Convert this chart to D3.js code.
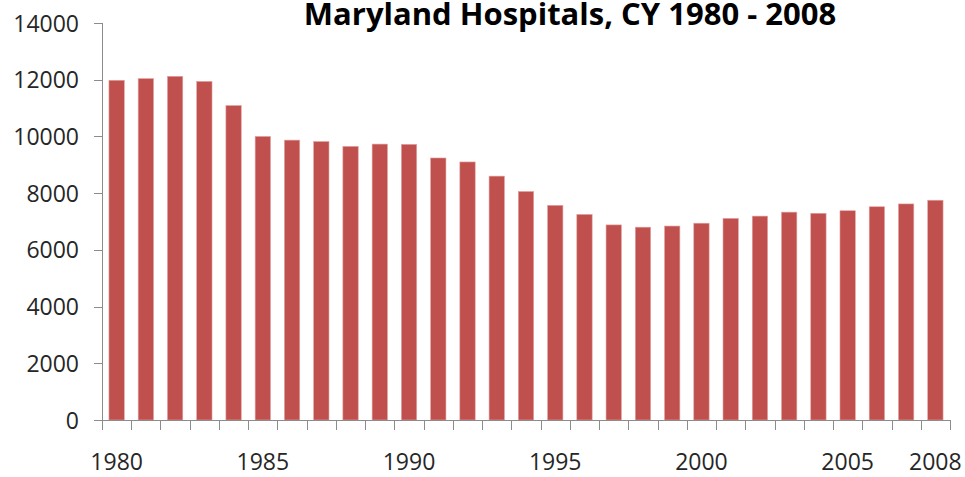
<!DOCTYPE html>
<meta charset="utf-8">
<style>
    body { margin: 0; background: #fff; }
    text { font-family: "Open Sans", sans-serif; fill: #262626; }
    .title { font-weight: bold; fill: #000; }
    .axis path, .axis line { stroke: #8c8c8c; shape-rendering: crispEdges; }
</style>
<svg width="965" height="477"></svg>
<script src="https://cdnjs.cloudflare.com/ajax/libs/d3/7.8.5/d3.min.js"></script>
<script>

    // years on the category axis
    var years = d3.range(1980, 2009);
    // values
    var admissions = [11980, 12040, 12120, 11940, 11090, 10000, 9870, 9820, 9650, 9730,
        9720, 9240, 9100, 8600, 8060, 7570, 7250, 6880, 6800, 6840,
        6940, 7110, 7190, 7330, 7290, 7380, 7520, 7620, 7750];
    var yTicks = [0, 2000, 4000, 6000, 8000, 10000, 12000, 14000];
    var xLabels = [1980, 1985, 1990, 1995, 2000, 2005, 2008];

    const BAR_COLOR = "#c0504d";
    const LABEL_SIZE = "23px";

    var svg = d3.select("svg"),
        margin = {top: 23, right: 15, bottom: 57, left: 102},
        width = +svg.attr("width") - margin.left - margin.right,
        height = +svg.attr("height") - margin.top - margin.bottom;

    var g = svg.append("g").attr("transform", "translate(" + margin.left + "," + margin.top + ")");

    var x = d3.scaleBand().domain(years).range([0, width]).paddingInner(0.475).paddingOuter(0.2375);
    var y = d3.scaleLinear().domain([0, 14000]).range([height, 0]);

    g.append("g")
        .attr("class", "bars")
        .selectAll("rect")
        .data(admissions)
        .enter().append("rect")
        .attr("x", function (d, i) { return x(years[i]); })
        .attr("y", function (d) { return y(d); })
        .attr("width", x.bandwidth())
        .attr("height", function (d) { return height - y(d); })
        .attr("fill", BAR_COLOR)
        .attr("stroke", "#e3a3a2")
        .attr("stroke-width", 0.6);

    // y axis
    var yAxis = g.append("g")
        .attr("class", "axis")
        .call(d3.axisLeft(y).tickValues(yTicks).tickSize(8).tickPadding(15).tickFormat(d3.format("d")));
    yAxis.select(".domain").attr("d", "M0.5," + height + "V0");
    yAxis.selectAll("text").style("font-size", LABEL_SIZE).attr("dy", "0.35em");

    // x axis: tick marks at each band boundary, labels on selected years
    var step = x.step();
    var xb = g.append("g")
        .attr("class", "axis")
        .attr("transform", "translate(0," + height + ")");
    xb.append("path").attr("d", "M0,0.5H" + width);
    xb.selectAll("line")
        .data(d3.range(years.length + 1))
        .enter().append("line")
        .attr("x1", function (i) { return Math.round(i * step) + 0.5; })
        .attr("x2", function (i) { return Math.round(i * step) + 0.5; })
        .attr("y1", 0)
        .attr("y2", 10);
    xb.selectAll("text")
        .data(xLabels)
        .enter().append("text")
        .attr("x", function (d) { return x(d) + x.bandwidth() / 2; })
        .attr("y", 50)
        .attr("text-anchor", "middle")
        .style("font-size", LABEL_SIZE)
        .text(function (d) { return d; });

    svg.append("text")
        .attr("class", "title")
        .attr("x", 570)
        .attr("y", 25)
        .attr("text-anchor", "middle")
        .style("font-size", "31px")
        .text("Maryland Hospitals, CY 1980 - 2008");

</script>
